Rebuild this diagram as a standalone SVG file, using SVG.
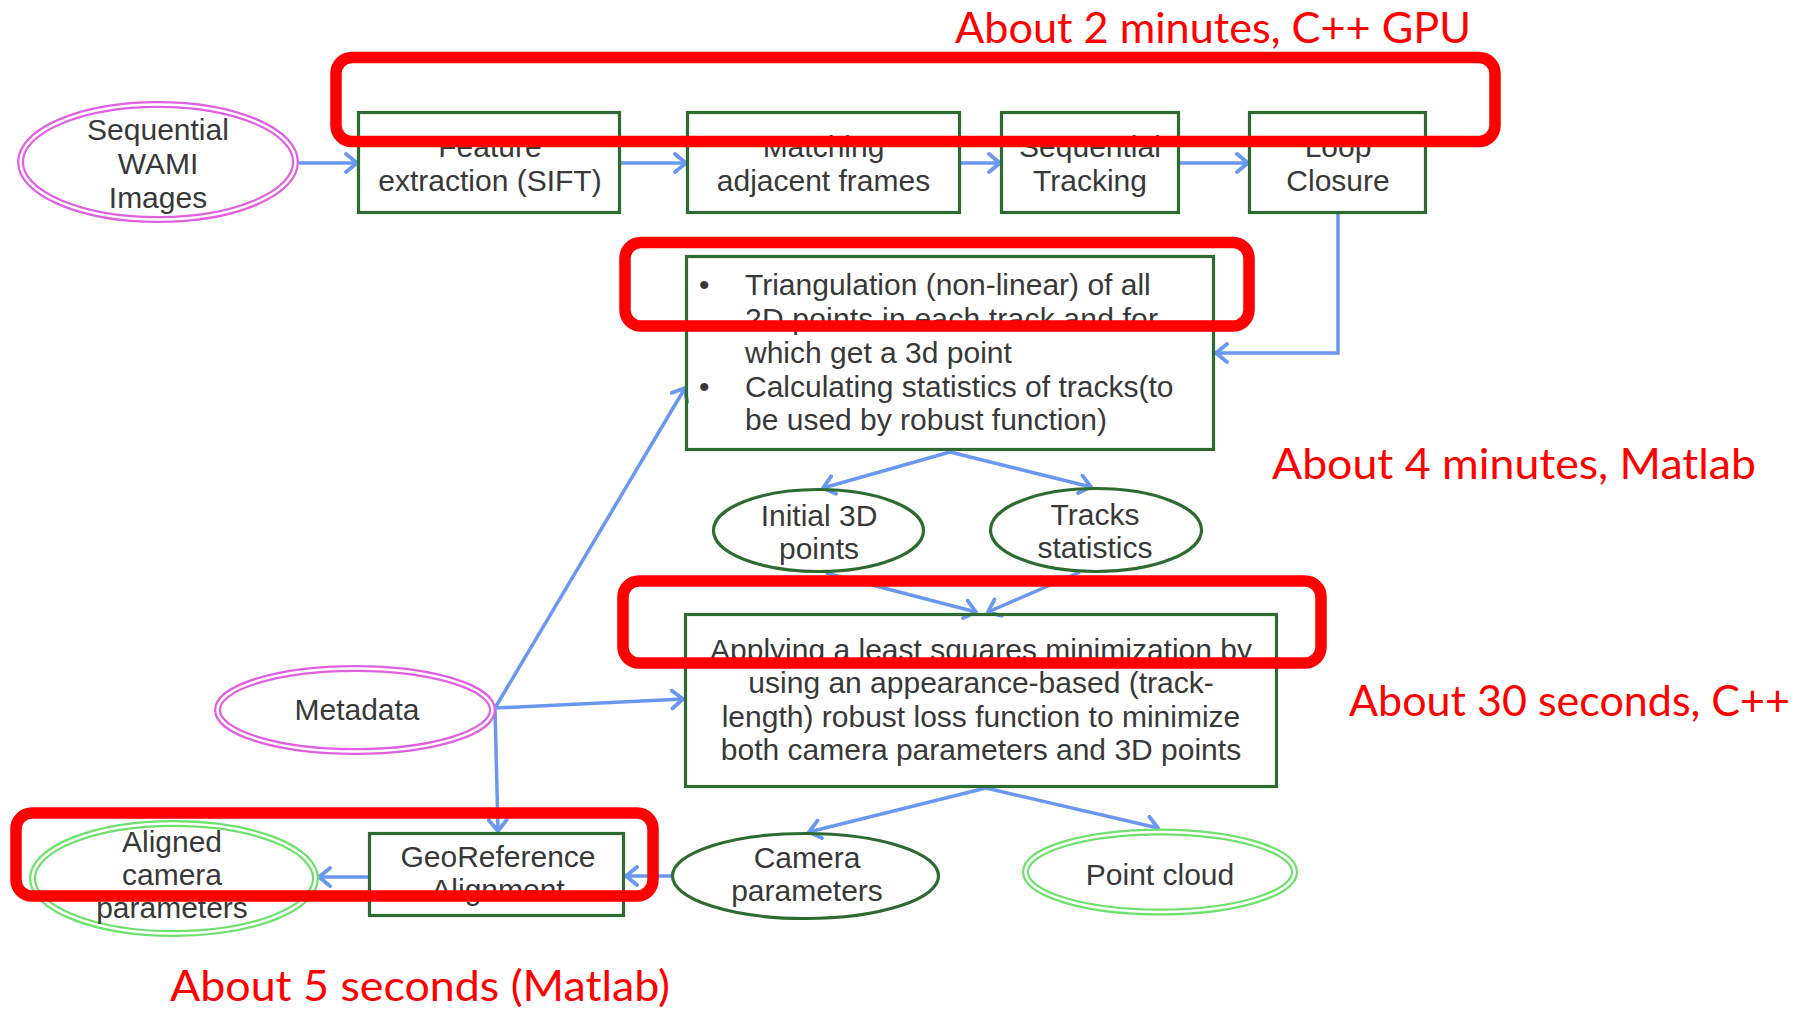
<svg xmlns="http://www.w3.org/2000/svg" width="1809" height="1011" viewBox="0 0 1809 1011">
<defs>
<marker id="arr" markerUnits="userSpaceOnUse" markerWidth="16" markerHeight="22" viewBox="0 0 16 22" refX="13" refY="11" orient="auto">
<path d="M2,2 L13,11 L2,20" fill="none" stroke="#6a98f0" stroke-width="3.8" stroke-linecap="round" stroke-linejoin="round"/>
</marker>
</defs>
<style>
.box{fill:none;stroke:#2d6b30;stroke-width:3.2}
.ell{fill:none;stroke:#2d6b30;stroke-width:3.2}
.dm{fill:none;stroke:#e060e0;stroke-width:7}
.dg{fill:none;stroke:#6ee06e;stroke-width:7}
.dw{fill:none;stroke:#ffffff;stroke-width:2.5}
.t{font-family:"Liberation Sans",Arial,sans-serif;font-size:30px;fill:#383838}
.c{text-anchor:middle}
.con{fill:none;stroke:#6a98f0;stroke-width:3.5;marker-end:url(#arr)}
.red{fill:none;stroke:#ff0000;stroke-width:11.5}
.rt{font-family:"Lato","Open Sans",sans-serif;font-size:43px;fill:#ff0000}
</style>
<rect width="1809" height="1011" fill="#ffffff"/>

<g id="connectors">
<path class="con" d="M299,163 L357,163"/>
<path class="con" d="M621,163 L686,163"/>
<path class="con" d="M961,163 L1000,163"/>
<path class="con" d="M1180,163 L1248,163"/>
<path class="con" d="M1338,214 V353 H1216"/>
<path class="con" d="M950,452 L823,488"/>
<path class="con" d="M950,452 L1091,487"/>
<path class="con" d="M826,573 L976,612"/>
<path class="con" d="M1080,572 L988,612"/>
<path class="con" d="M495,708 L683,699"/>
<path class="con" d="M495,708 L685,388"/>
<path class="con" d="M495,708 L498,831"/>
<path class="con" d="M986,788 L809,832"/>
<path class="con" d="M986,788 L1158,828"/>
<path class="con" d="M671,876 L626,876"/>
<path class="con" d="M368,877 L319,877"/>
</g>

<g id="sequential-wami">
<ellipse class="dm" cx="158" cy="162" rx="137.5" ry="57.5"/>
<ellipse class="dw" cx="158" cy="162" rx="137.5" ry="57.5"/>
<text class="t c" x="158" y="140">Sequential</text>
<text class="t c" x="158" y="174">WAMI</text>
<text class="t c" x="158" y="208">Images</text>
</g>

<g id="feature-extraction">
<rect class="box" x="358.5" y="112.5" width="261" height="100"/>
<text class="t c" x="490" y="157">Feature</text>
<text class="t c" x="490" y="191">extraction (SIFT)</text>
</g>

<g id="matching">
<rect class="box" x="687.5" y="112.5" width="272" height="100"/>
<text class="t c" x="823.5" y="157">Matching</text>
<text class="t c" x="823.5" y="191">adjacent frames</text>
</g>

<g id="sequential-tracking">
<rect class="box" x="1001.5" y="112.5" width="177" height="100"/>
<text class="t c" x="1090" y="157">Sequential</text>
<text class="t c" x="1090" y="191">Tracking</text>
</g>

<g id="loop-closure">
<rect class="box" x="1249.5" y="112.5" width="176" height="100"/>
<text class="t c" x="1338" y="157">Loop</text>
<text class="t c" x="1338" y="191">Closure</text>
</g>

<g id="triangulation">
<rect class="box" x="686.5" y="256.5" width="527" height="193"/>
<text class="t" x="699" y="295">•</text>
<text class="t" x="745" y="295">Triangulation (non-linear) of all</text>
<text class="t" x="745" y="329" textLength="413" lengthAdjust="spacing">2D points in each track and for</text>
<text class="t" x="745" y="362.5">which get a 3d point</text>
<text class="t" x="699" y="396.5">•</text>
<text class="t" x="745" y="396.5">Calculating statistics of tracks(to</text>
<text class="t" x="745" y="430">be used by robust function)</text>
</g>

<g id="initial-3d">
<ellipse class="ell" cx="818.5" cy="530.5" rx="105" ry="41"/>
<text class="t c" x="819" y="526">Initial 3D</text>
<text class="t c" x="819" y="559">points</text>
</g>

<g id="tracks-statistics">
<ellipse class="ell" cx="1096" cy="530" rx="105.5" ry="41.5"/>
<text class="t c" x="1095" y="525">Tracks</text>
<text class="t c" x="1095" y="558">statistics</text>
</g>

<g id="least-squares">
<rect class="box" x="685.5" y="614.5" width="591" height="172"/>
<text class="t c" x="981" y="659.5">Applying a least squares minimization by</text>
<text class="t c" x="981" y="693">using an appearance-based (track-</text>
<text class="t c" x="981" y="726.5">length) robust loss function to minimize</text>
<text class="t c" x="981" y="760">both camera parameters and 3D points</text>
</g>

<g id="metadata">
<ellipse class="dm" cx="355" cy="710" rx="137.5" ry="41.5"/>
<ellipse class="dw" cx="355" cy="710" rx="137.5" ry="41.5"/>
<text class="t c" x="357" y="720">Metadata</text>
</g>

<g id="georeference">
<rect class="box" x="369.5" y="833.5" width="254" height="82"/>
<text class="t c" x="498" y="867">GeoReference</text>
<text class="t c" x="498" y="900">Alignment</text>
</g>

<g id="aligned-camera">
<ellipse class="dg" cx="174" cy="878.5" rx="141.5" ry="55"/>
<ellipse class="dw" cx="174" cy="878.5" rx="141.5" ry="55"/>
<text class="t c" x="172" y="852">Aligned</text>
<text class="t c" x="172" y="885">camera</text>
<text class="t c" x="172" y="918">parameters</text>
</g>

<g id="camera-parameters">
<ellipse class="ell" cx="805.5" cy="876" rx="133" ry="42.5"/>
<text class="t c" x="807" y="868">Camera</text>
<text class="t c" x="807" y="901">parameters</text>
</g>

<g id="point-cloud">
<ellipse class="dg" cx="1160" cy="872" rx="134.5" ry="40"/>
<ellipse class="dw" cx="1160" cy="872" rx="134.5" ry="40"/>
<text class="t c" x="1160" y="885">Point cloud</text>
</g>

<g id="annotations">
<rect class="red" x="336" y="57.5" width="1159" height="84" rx="16"/>
<rect class="red" x="625" y="242.5" width="624" height="83.5" rx="16"/>
<rect class="red" x="623" y="581" width="698" height="82" rx="16"/>
<rect class="red" x="16" y="813" width="637" height="83" rx="16"/>
<text class="rt" x="955" y="43" textLength="516" lengthAdjust="spacingAndGlyphs">About 2 minutes, C++ GPU</text>
<text class="rt" x="1272" y="479" textLength="484" lengthAdjust="spacingAndGlyphs">About 4 minutes, Matlab</text>
<text class="rt" x="1349" y="716" textLength="441" lengthAdjust="spacingAndGlyphs">About 30 seconds, C++</text>
<text class="rt" x="170" y="1001" textLength="500" lengthAdjust="spacingAndGlyphs">About 5 seconds (Matlab)</text>
</g>
</svg>
